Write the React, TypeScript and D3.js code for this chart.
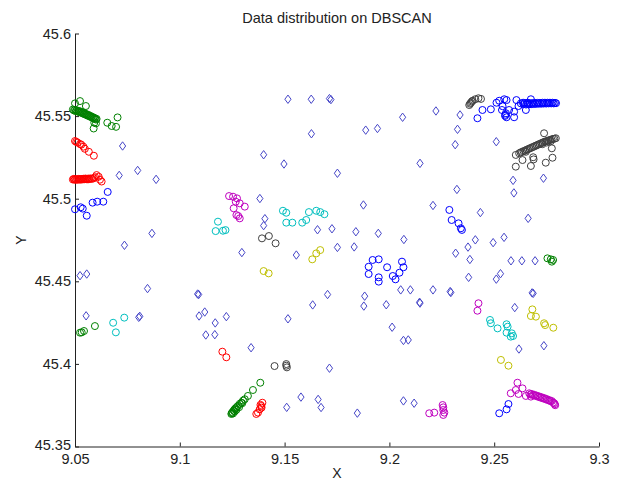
import React, { useEffect, useRef } from "react";
import * as d3 from "d3";

type Pt = [number, number];

// noise points (diamonds)
const noise: Pt[] = [
  [9.1516, 45.5602], [9.1627, 45.5602], [9.1714, 45.5606], [9.1721, 45.56],
  [9.2222, 45.5531], [9.2063, 45.5493], [9.1887, 45.5415], [9.1943, 45.5425], [9.1628, 45.5393],
  [9.2337, 45.5507], [9.2325, 45.542], [9.2314, 45.5327], [9.251, 45.5345],
  [9.0727, 45.5319], [9.14, 45.5266], [9.1497, 45.521], [9.2146, 45.5214], [9.1752, 45.5154],
  [9.0711, 45.5141], [9.0799, 45.5171], [9.0887, 45.5117],
  [9.2322, 45.5056], [9.2735, 45.5124], [9.259, 45.5111], [9.2594, 45.5035],
  [9.1382, 45.5001], [9.1876, 45.4962], [9.2208, 45.4959], [9.2434, 45.4916], [9.2662, 45.4881],
  [9.1406, 45.4879], [9.14, 45.4837], [9.1657, 45.4812], [9.1726, 45.4818], [9.184, 45.48],
  [9.1947, 45.479], [9.2069, 45.4753],
  [9.2547, 45.4766], [9.241, 45.4751], [9.2495, 45.4734],
  [9.0867, 45.479], [9.0736, 45.4718],
  [9.1296, 45.4674], [9.1556, 45.4659], [9.1752, 45.4705], [9.1832, 45.4708], [9.2375, 45.4707],
  [9.2316, 45.467], [9.2384, 45.4632],
  [9.258, 45.4624], [9.2632, 45.4624], [9.2695, 45.4624],
  [9.253, 45.4546], [9.251, 45.4513], [9.2378, 45.4524],
  [9.0524, 45.4534], [9.0556, 45.4544], [9.0846, 45.4456],
  [9.2054, 45.4448], [9.21, 45.4448], [9.2208, 45.4448], [9.229, 45.4438], [9.2293, 45.4432],
  [9.1085, 45.4423], [9.109, 45.442], [9.1705, 45.442], [9.1882, 45.441],
  [9.2144, 45.4373], [9.2146, 45.4368], [9.2681, 45.443], [9.2686, 45.4427],
  [9.1634, 45.4357], [9.1878, 45.435], [9.1985, 45.4358], [9.2598, 45.4341],
  [9.1119, 45.4314], [9.1092, 45.429], [9.1222, 45.4286], [9.1169, 45.4248],
  [9.0553, 45.4291], [9.0804, 45.4282], [9.0809, 45.4288], [9.1516, 45.4273],
  [9.2013, 45.4222], [9.1124, 45.4175], [9.1167, 45.4177], [9.2067, 45.4142], [9.209, 45.4145],
  [9.134, 45.4098], [9.2618, 45.409], [9.2737, 45.411],
  [9.1714, 45.3974], [9.1578, 45.3799], [9.166, 45.3785], [9.1674, 45.3736], [9.151, 45.3737],
  [9.2067, 45.3776], [9.2118, 45.3762], [9.1847, 45.3702],
];

// clusters
const greenTopLeft: Pt[] = [
  [9.049, 45.554], [9.0495, 45.5534], [9.05, 45.5538], [9.0504, 45.553], [9.0508, 45.5535],
  [9.0512, 45.5528], [9.0516, 45.5531], [9.052, 45.5524], [9.0524, 45.5529], [9.0528, 45.5521],
  [9.0532, 45.5525], [9.0536, 45.5517], [9.054, 45.552], [9.0544, 45.5512], [9.0548, 45.5516],
  [9.0552, 45.5508], [9.0556, 45.5511], [9.056, 45.5503], [9.0564, 45.5507], [9.0568, 45.5499],
  [9.0572, 45.5502], [9.0576, 45.5494], [9.058, 45.5497], [9.0584, 45.5489], [9.0588, 45.5492],
  [9.0592, 45.5484], [9.0596, 45.5487], [9.06, 45.5479], [9.0603, 45.5483],
  [9.05, 45.5577], [9.0524, 45.5591], [9.0552, 45.5561], [9.0589, 45.5425], [9.06, 45.5456],
  [9.0654, 45.546], [9.0675, 45.544], [9.0696, 45.5435], [9.0703, 45.5492], [9.0592, 45.546],
];
const redTopLeft: Pt[] = [
  [9.05, 45.5349], [9.0506, 45.5344], [9.0512, 45.534], [9.0524, 45.5331], [9.053, 45.5327],
  [9.054, 45.5315], [9.0547, 45.5302], [9.0566, 45.5284], [9.059, 45.526],
];
const redLeft: Pt[] = [
  [9.049, 45.5116], [9.0494, 45.512], [9.0498, 45.5115], [9.0502, 45.5119], [9.0506, 45.5114],
  [9.051, 45.5118], [9.0514, 45.5116], [9.0518, 45.512], [9.0522, 45.5115], [9.0526, 45.5119],
  [9.053, 45.5116], [9.0534, 45.512], [9.0538, 45.5117], [9.0542, 45.5121], [9.0546, 45.5118],
  [9.055, 45.5122], [9.0554, 45.5118], [9.0558, 45.5121], [9.0562, 45.5117], [9.0566, 45.5122],
  [9.057, 45.5119], [9.0576, 45.5123], [9.0582, 45.512], [9.059, 45.5124], [9.0596, 45.513],
  [9.0603, 45.5143], [9.0613, 45.5133], [9.0619, 45.5115], [9.0627, 45.5104],
];
const blueLeft: Pt[] = [
  [9.05, 45.4936], [9.0527, 45.4948], [9.0537, 45.494], [9.0556, 45.4897], [9.0584, 45.4976],
  [9.0606, 45.4982], [9.0635, 45.4982], [9.0656, 45.5041],
];
const greenBottomLeft: Pt[] = [[9.0524, 45.4189], [9.0532, 45.4191], [9.0543, 45.4199], [9.0595, 45.4229]];
const cyanBottomLeft: Pt[] = [[9.0682, 45.4249], [9.0695, 45.4191], [9.0735, 45.428]];
const magentaMid: Pt[] = [
  [9.1235, 45.5016], [9.1254, 45.5012], [9.1273, 45.5002], [9.1267, 45.4982], [9.1286, 45.4972],
  [9.131, 45.4952], [9.1257, 45.4942], [9.127, 45.4901], [9.1286, 45.4881], [9.1279, 45.4895],
];
const cyanMidLeft: Pt[] = [[9.1182, 45.4861], [9.1171, 45.4804], [9.1206, 45.4806], [9.1218, 45.481]];
const cyanMid: Pt[] = [
  [9.1492, 45.4927], [9.1508, 45.4915], [9.1508, 45.4855], [9.1537, 45.4855], [9.1584, 45.4855],
  [9.1603, 45.4871], [9.1616, 45.4919], [9.1651, 45.4927], [9.167, 45.4919], [9.169, 45.4906],
];
const grayMid: Pt[] = [[9.1392, 45.476], [9.1425, 45.4774], [9.1457, 45.473]];
const oliveMid: Pt[] = [[9.1632, 45.4633], [9.1651, 45.4669], [9.167, 45.4689]];
const oliveMidLeft: Pt[] = [[9.14, 45.4562], [9.1424, 45.4548]];
const redMid: Pt[] = [[9.1203, 45.4074], [9.1222, 45.404]];
const grayBottom: Pt[] = [[9.1452, 45.3987], [9.1508, 45.3999], [9.1511, 45.3979], [9.1508, 45.3989]];
const greenBottom: Pt[] = [
  [9.1384, 45.3886], [9.1349, 45.3842], [9.1325, 45.3806], [9.131, 45.3786], [9.1302, 45.3778],
  [9.1294, 45.3765], [9.1286, 45.3758], [9.1278, 45.3746], [9.1272, 45.3739], [9.1266, 45.3731],
  [9.1262, 45.3726], [9.1257, 45.3718], [9.1251, 45.3708], [9.1248, 45.3702], [9.1246, 45.3697],
  [9.1254, 45.37], [9.1262, 45.3712], [9.127, 45.3722], [9.1283, 45.3738], [9.1298, 45.3762],
];
const redBottom: Pt[] = [
  [9.1394, 45.3765], [9.1389, 45.3745], [9.1381, 45.3725], [9.1373, 45.3705], [9.1365, 45.3697],
  [9.1385, 45.3752], [9.139, 45.3735],
];
const blueMid: Pt[] = [
  [9.192, 45.4629], [9.1949, 45.4633], [9.1901, 45.4588], [9.1901, 45.4544], [9.1949, 45.4524],
  [9.1949, 45.4498], [9.1989, 45.4585], [9.2016, 45.4532], [9.2029, 45.4512], [9.2048, 45.4552],
  [9.206, 45.4619], [9.2067, 45.4585],
];
const blueRightMid: Pt[] = [[9.2286, 45.4932], [9.2297, 45.4871], [9.233, 45.4851], [9.2341, 45.4821], [9.2346, 45.4811]];
const greenRight: Pt[] = [[9.2754, 45.4639], [9.277, 45.4633], [9.2775, 45.4619], [9.2781, 45.4629]];
const grayTopRight: Pt[] = [
  [9.2381, 45.5567], [9.2385, 45.5575], [9.2389, 45.5581], [9.2393, 45.5588], [9.2397, 45.5593],
  [9.241, 45.5602], [9.2425, 45.5608], [9.2437, 45.5604],
];
const blueTopRight: Pt[] = [
  [9.242, 45.5487], [9.2444, 45.5537], [9.2484, 45.5541], [9.2511, 45.5581], [9.2524, 45.5593],
  [9.2548, 45.5602], [9.2559, 45.5597], [9.2537, 45.5537], [9.2556, 45.5517], [9.2559, 45.5493],
  [9.2552, 45.5501], [9.2571, 45.5537], [9.2595, 45.5493], [9.2595, 45.5527], [9.2606, 45.5597],
  [9.2616, 45.5561], [9.2627, 45.5577], [9.2638, 45.5581], [9.2651, 45.5537], [9.2659, 45.5581],
  [9.2675, 45.5602], [9.254, 45.556], [9.2553, 45.5508],
  [9.264, 45.5572], [9.2646, 45.5579], [9.2652, 45.557], [9.2658, 45.5577], [9.2664, 45.5571],
  [9.267, 45.5578], [9.2676, 45.5572], [9.2682, 45.5579], [9.2688, 45.5573], [9.2694, 45.558],
  [9.27, 45.5574], [9.2706, 45.558], [9.2712, 45.5575], [9.2718, 45.558], [9.2724, 45.5575],
  [9.273, 45.5581], [9.2736, 45.5576], [9.2742, 45.5581], [9.2748, 45.5576], [9.2754, 45.5581],
  [9.276, 45.5577], [9.2766, 45.5581], [9.2772, 45.5577], [9.2778, 45.5581], [9.2784, 45.5577],
  [9.279, 45.558], [9.2795, 45.5578],
];
const grayRight: Pt[] = [
  [9.2619, 45.5275], [9.2626, 45.528], [9.2633, 45.5283], [9.264, 45.5288], [9.2647, 45.5291],
  [9.2654, 45.5296], [9.2661, 45.5299], [9.2668, 45.5304], [9.2675, 45.5307], [9.2682, 45.5312],
  [9.2689, 45.5315], [9.2696, 45.532], [9.2703, 45.5323], [9.271, 45.5328], [9.2717, 45.5331],
  [9.2724, 45.5336], [9.2731, 45.5339], [9.2738, 45.5344], [9.2745, 45.5346], [9.2752, 45.535],
  [9.2759, 45.5352], [9.2766, 45.5356], [9.2773, 45.5358], [9.278, 45.5362], [9.2787, 45.5363],
  [9.2794, 45.5366], [9.277, 45.5348], [9.275, 45.534], [9.273, 45.533],
  [9.2738, 45.5396], [9.2603, 45.5265], [9.2603, 45.5194], [9.2635, 45.5234], [9.2675, 45.5198],
  [9.2686, 45.5251], [9.2746, 45.5218], [9.2778, 45.5248], [9.2775, 45.5305], [9.2651, 45.5284],
  [9.2688, 45.5238],
];
const cyanRight: Pt[] = [
  [9.248, 45.4266], [9.2484, 45.4246], [9.2516, 45.4215], [9.2559, 45.424], [9.2564, 45.4225],
  [9.2559, 45.4189], [9.2584, 45.4185], [9.259, 45.4169], [9.2579, 45.4165],
];
const oliveRight: Pt[] = [
  [9.2682, 45.433], [9.2675, 45.429], [9.2699, 45.4286], [9.2738, 45.4246], [9.2743, 45.4235],
  [9.2782, 45.4219], [9.2532, 45.4024], [9.2568, 45.3989],
];
const magentaRightMid: Pt[] = [[9.2425, 45.4367], [9.242, 45.4322]];
const magentaRight: Pt[] = [
  [9.2611, 45.3886], [9.2603, 45.3842], [9.2579, 45.3822], [9.2616, 45.3818], [9.2635, 45.3852],
  [9.2651, 45.3806], [9.2675, 45.3802],
  [9.2667, 45.3822], [9.2673, 45.3815], [9.2679, 45.3818], [9.2685, 45.3811], [9.2691, 45.3813],
  [9.2697, 45.3806], [9.2703, 45.3808], [9.2709, 45.3801], [9.2715, 45.3803], [9.2721, 45.3796],
  [9.2727, 45.3798], [9.2733, 45.3791], [9.2739, 45.3793], [9.2745, 45.3786], [9.2751, 45.3787],
  [9.2757, 45.378], [9.2763, 45.3781], [9.2769, 45.3774], [9.2775, 45.3775], [9.2781, 45.3766],
  [9.2786, 45.3762], [9.2791, 45.375], [9.2789, 45.3756],
];
const blueBottomRight: Pt[] = [[9.2524, 45.3701], [9.2559, 45.3725], [9.2568, 45.3757]];
const magentaBottom: Pt[] = [
  [9.219, 45.3701], [9.2214, 45.3705], [9.2254, 45.3751], [9.2257, 45.3737], [9.2257, 45.3721],
  [9.2262, 45.3705], [9.2257, 45.3691],
];

const xTicks = [9.05, 9.1, 9.15, 9.2, 9.25, 9.3];
const yTicks = [45.35, 45.4, 45.45, 45.5, 45.55, 45.6];

// MATLAB default color order
const palette = ["#0000ff", "#008000", "#ff0000", "#00bfbf", "#bf00bf", "#bfbf00", "#404040"];

const clusters: { pts: Pt[]; c: number }[] = [
  { pts: greenTopLeft, c: 1 },
  { pts: redTopLeft, c: 2 },
  { pts: redLeft, c: 2 },
  { pts: blueLeft, c: 0 },
  { pts: greenBottomLeft, c: 1 },
  { pts: cyanBottomLeft, c: 3 },
  { pts: magentaMid, c: 4 },
  { pts: cyanMidLeft, c: 3 },
  { pts: cyanMid, c: 3 },
  { pts: grayMid, c: 6 },
  { pts: oliveMid, c: 5 },
  { pts: oliveMidLeft, c: 5 },
  { pts: redMid, c: 2 },
  { pts: grayBottom, c: 6 },
  { pts: greenBottom, c: 1 },
  { pts: redBottom, c: 2 },
  { pts: blueMid, c: 0 },
  { pts: blueRightMid, c: 0 },
  { pts: greenRight, c: 1 },
  { pts: grayTopRight, c: 6 },
  { pts: blueTopRight, c: 0 },
  { pts: grayRight, c: 6 },
  { pts: cyanRight, c: 3 },
  { pts: oliveRight, c: 5 },
  { pts: magentaRightMid, c: 4 },
  { pts: magentaRight, c: 4 },
  { pts: blueBottomRight, c: 0 },
  { pts: magentaBottom, c: 4 },
];

const W = 617;
const H = 481;
const font = "'Liberation Sans', Arial, sans-serif";

const App = () => {
  const svgRef = useRef<SVGSVGElement>(null);

  useEffect(() => {
    const svg = d3.select(svgRef.current);
    svg.selectAll("*").remove();

    const x = d3.scaleLinear().domain([9.05, 9.3]).range([75, 599]);
    const y = d3.scaleLinear().domain([45.35, 45.6]).range([446.5, 33.5]);
    const fmt = (d: d3.NumberValue) => String(+(+d).toFixed(2));

    svg.append("rect").attr("width", W).attr("height", H).attr("fill", "#fff");

    // axes, ticks pointing inwards like MATLAB
    const gx = svg
      .append("g")
      .attr("transform", `translate(0,${y(45.35)})`)
      .call(d3.axisBottom(x).tickValues(xTicks).tickFormat(fmt).tickSizeInner(-4).tickSizeOuter(0).tickPadding(7));
    const gy = svg
      .append("g")
      .attr("transform", `translate(${x(9.05)},0)`)
      .call(d3.axisLeft(y).tickValues(yTicks).tickFormat(fmt).tickSizeInner(-4).tickSizeOuter(0).tickPadding(4));
    [gx, gy].forEach((g) => {
      g.select(".domain").attr("stroke", "#222");
      g.selectAll(".tick line").attr("stroke", "#222");
      g.selectAll("text").attr("fill", "#222").style("font-family", font).style("font-size", "14.5px");
    });
    // keep the corner label clear of 9.05
    gy.selectAll<SVGTextElement, number>("text").filter((d) => d === 45.35).attr("dy", "0.2em");

    // labels
    svg.append("text").attr("x", 337).attr("y", 23).attr("text-anchor", "middle")
      .style("font-family", font).style("font-size", "14.5px").attr("fill", "#222")
      .text("Data distribution on DBSCAN");
    svg.append("text").attr("x", x(9.175)).attr("y", 478).attr("text-anchor", "middle")
      .style("font-family", font).style("font-size", "14px").attr("fill", "#222").text("X");
    svg.append("text").attr("transform", `translate(26,${y(45.475)}) rotate(-90)`).attr("text-anchor", "middle")
      .style("font-family", font).style("font-size", "14px").attr("fill", "#222").text("Y");

    // noise as diamonds
    const dw = 3.1, dh = 4.2;
    svg.append("g").selectAll("path").data(noise).enter().append("path")
      .attr("d", (d) => {
        const cx = x(d[0]), cy = y(d[1]);
        return `M${cx},${cy - dh}L${cx + dw},${cy}L${cx},${cy + dh}L${cx - dw},${cy}Z`;
      })
      .attr("fill", "none").attr("stroke", "#4646c8").attr("stroke-width", 1);

    // cluster circles
    clusters.forEach((cl) => {
      svg.append("g").selectAll("circle").data(cl.pts).enter().append("circle")
        .attr("cx", (d) => x(d[0])).attr("cy", (d) => y(d[1])).attr("r", 3.5)
        .attr("fill", "none").attr("stroke", palette[cl.c]).attr("stroke-width", 1);
    });
  }, []);

  return (
    <svg ref={svgRef} width={W} height={H} style={{ position: "absolute", left: 0, top: 0 }}></svg>
  );
};

export default App;
